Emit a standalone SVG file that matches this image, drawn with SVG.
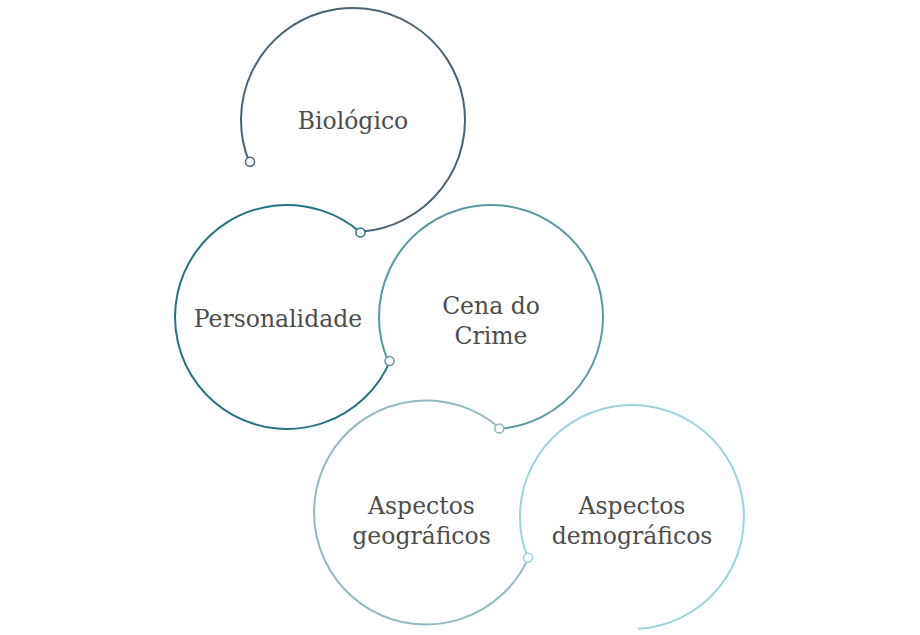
<svg xmlns="http://www.w3.org/2000/svg" width="920" height="635" viewBox="0 0 920 635">
<style>
.arc{fill:none;stroke-width:2}
.dot{fill:#fff;stroke-width:1.5}
.lbl{font-family:"DejaVu Serif","Liberation Serif",serif;font-size:23.5px;fill:#4d4d4d;text-anchor:middle}
</style>
<rect width="920" height="635" fill="#fff"/>
<g id="connectors">
<path class="arc" stroke="#4b6474" d="M249.2,162 A112,112 0 1 1 360.8,231.7"/>
<path class="arc" stroke="#26737f" d="M360.8,232.7 A112,112 0 1 0 390.1,360.8"/>
<path class="arc" stroke="#5a97a1" d="M388.3,361.7 A112,112 0 1 1 499.3,428.7"/>
<path class="arc" stroke="#94b8c1" d="M499.8,428.2 A112,112 0 1 0 528.4,557.9"/>
<path class="arc" stroke="#9fd3db" d="M527.7,557.9 A112,112 0 1 1 638.1,628.8"/>
</g>
<g id="n1"><circle class="dot" stroke="#4b6474" cx="250" cy="161.8" r="4.5"/><text class="lbl" x="353" y="129">Biológico</text></g>
<g id="n2"><circle class="dot" stroke="#26737f" cx="360.5" cy="232.4" r="4.5"/><text class="lbl" x="278" y="327">Personalidade</text></g>
<g id="n3"><circle class="dot" stroke="#5a97a1" cx="389.5" cy="361" r="4.5"/><text class="lbl" x="491" y="314">Cena do<tspan x="491" y="344">Crime</tspan></text></g>
<g id="n4"><circle class="dot" stroke="#94b8c1" cx="499.3" cy="428.5" r="4.5"/><text class="lbl" x="421.5" y="514">Aspectos<tspan x="421.5" y="544">geográficos</tspan></text></g>
<g id="n5"><circle class="dot" stroke="#9fd3db" cx="528" cy="557.7" r="4.5"/><text class="lbl" x="632" y="514">Aspectos<tspan x="632" y="544">demográficos</tspan></text></g>
</svg>
